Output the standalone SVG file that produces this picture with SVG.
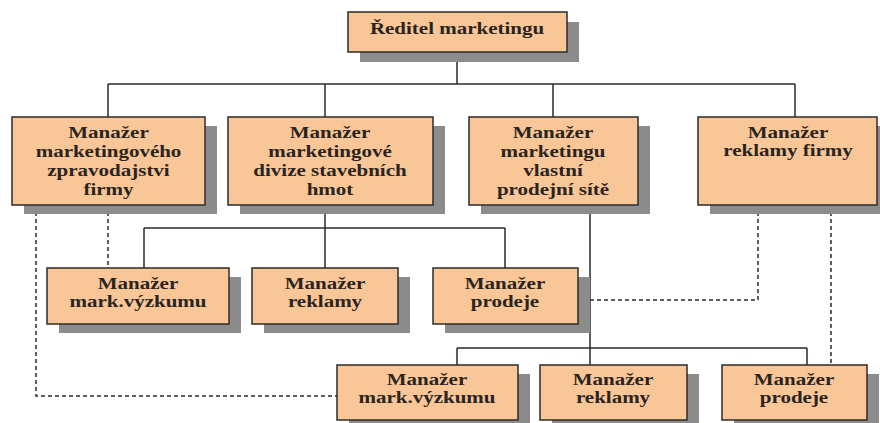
<svg xmlns="http://www.w3.org/2000/svg" width="880" height="423" viewBox="0 0 880 423">
<style>
.box{fill:#F9C697;stroke:#2b2b2b;stroke-width:1.5}
.sh{fill:#8c8c8c}
.t{font-family:"Liberation Serif","Times New Roman",serif;font-size:17.5px;font-weight:bold;fill:#2a2420;text-anchor:middle}
.ln{fill:none;stroke:#2b2b2b;stroke-width:1.5}
.dl{fill:none;stroke:#2b2b2b;stroke-width:1.5;stroke-dasharray:4 3}
</style>
<rect width="880" height="423" fill="#fff"/>
<g id="connectors">
<path class="ln" d="M457 52V84M108 84H795M108 84V117M325 84V117M553 84V117M795 84V117"/>
<path class="ln" d="M325 205V228M144 228H505M144 228V268M325 228V268M505 228V268"/>
<path class="ln" d="M590 205V348M457 348H807M457 348V365M590 348V365M807 348V365"/>
<path class="dl" d="M36 205V396H337"/>
<path class="dl" d="M108 205V268"/>
<path class="dl" d="M758 205V300H578"/>
<path class="dl" d="M831 205V365"/>
</g>
<g id="n0"><rect class="sh" x="360" y="22" width="219" height="40"/><rect class="box" x="348" y="12" width="219" height="40"/>
<text class="t" transform="translate(457 34) scale(1.2 1)"><tspan x="0" y="0">Ředitel marketingu</tspan></text></g>
<g id="n1"><rect class="sh" x="24" y="126" width="193" height="88"/><rect class="box" x="12" y="117" width="193" height="88"/>
<text class="t" transform="translate(108.5 138) scale(1.2 1)"><tspan x="0" y="0">Manažer</tspan><tspan x="0" y="19">marketingového</tspan><tspan x="0" y="38">zpravodajstvi</tspan><tspan x="0" y="57">firmy</tspan></text></g>
<g id="n2"><rect class="sh" x="240" y="126" width="205" height="88"/><rect class="box" x="228" y="117" width="205" height="88"/>
<text class="t" transform="translate(330 138) scale(1.2 1)"><tspan x="0" y="0">Manažer</tspan><tspan x="0" y="19">marketingové</tspan><tspan x="0" y="38">divize stavebních</tspan><tspan x="0" y="57">hmot</tspan></text></g>
<g id="n3"><rect class="sh" x="481" y="126" width="169" height="88"/><rect class="box" x="469" y="117" width="169" height="88"/>
<text class="t" transform="translate(553 138) scale(1.2 1)"><tspan x="0" y="0">Manažer</tspan><tspan x="0" y="19">marketingu</tspan><tspan x="0" y="38">vlastní</tspan><tspan x="0" y="57">prodejní sítě</tspan></text></g>
<g id="n4"><rect class="sh" x="710" y="126" width="179" height="88"/><rect class="box" x="698" y="117" width="179" height="88"/>
<text class="t" transform="translate(788 138) scale(1.2 1)"><tspan x="0" y="0">Manažer</tspan><tspan x="0" y="18">reklamy firmy</tspan></text></g>
<g id="n5"><rect class="sh" x="59" y="277" width="182" height="56"/><rect class="box" x="47" y="268" width="182" height="56"/>
<text class="t" transform="translate(138 289) scale(1.2 1)"><tspan x="0" y="0">Manažer</tspan><tspan x="0" y="18">mark.výzkumu</tspan></text></g>
<g id="n6"><rect class="sh" x="264" y="277" width="146" height="56"/><rect class="box" x="252" y="268" width="146" height="56"/>
<text class="t" transform="translate(325 289) scale(1.2 1)"><tspan x="0" y="0">Manažer</tspan><tspan x="0" y="18">reklamy</tspan></text></g>
<g id="n7"><rect class="sh" x="445" y="277" width="145" height="56"/><rect class="box" x="433" y="268" width="145" height="56"/>
<text class="t" transform="translate(505 289) scale(1.2 1)"><tspan x="0" y="0">Manažer</tspan><tspan x="0" y="18">prodeje</tspan></text></g>
<g id="n8"><rect class="sh" x="349" y="374" width="181" height="55"/><rect class="box" x="337" y="365" width="181" height="55"/>
<text class="t" transform="translate(427 385) scale(1.2 1)"><tspan x="0" y="0">Manažer</tspan><tspan x="0" y="18">mark.výzkumu</tspan></text></g>
<g id="n9"><rect class="sh" x="552" y="374" width="147" height="55"/><rect class="box" x="540" y="365" width="147" height="55"/>
<text class="t" transform="translate(613 385) scale(1.2 1)"><tspan x="0" y="0">Manažer</tspan><tspan x="0" y="18">reklamy</tspan></text></g>
<g id="n10"><rect class="sh" x="734" y="374" width="145" height="55"/><rect class="box" x="722" y="365" width="145" height="55"/>
<text class="t" transform="translate(794 385) scale(1.2 1)"><tspan x="0" y="0">Manažer</tspan><tspan x="0" y="18">prodeje</tspan></text></g>
</svg>
